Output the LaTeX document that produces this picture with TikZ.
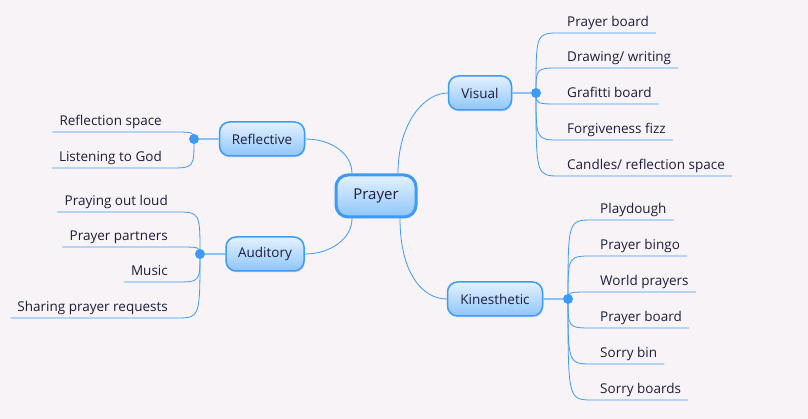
\documentclass[tikz,border=0pt]{standalone}
\usepackage{fontspec}
\setmainfont{Open Sans}
\usetikzlibrary{shadows}
\definecolor{mapblue}{HTML}{3D9BF5}
\definecolor{maplight}{HTML}{E4F1FF}
\definecolor{mapfill}{HTML}{8EC6FA}
\definecolor{mapstem}{HTML}{8CC2F5}
\definecolor{mapbg}{HTML}{F7F3F7}
\definecolor{maptext}{HTML}{1E1E3C}
\begin{document}
\begin{tikzpicture}[x=1pt,y=-1pt,font=\fontsize{13.5}{16}\selectfont,text=maptext,
    branch/.style={draw=mapblue,line width=1.5pt,rounded corners=10pt,
        top color=maplight,bottom color=mapfill,minimum height=34pt,inner xsep=0pt,
        drop shadow={opacity=0.18,shadow xshift=1pt,shadow yshift=-1.5pt}},
    knot/.style={circle,fill=mapblue,inner sep=0pt,minimum size=10pt},
    leaf/.style={inner xsep=7pt,inner ysep=3pt,text height=10pt,text depth=3pt},
    link/.style={draw=mapblue,line width=0.8pt},
    stem/.style={draw=mapstem,line width=2pt}]
    \useasboundingbox[fill=mapbg] (0,0) rectangle (808,419);
    %% centre
    \node[branch,line width=3pt,rounded corners=12pt,minimum width=80pt,minimum height=42pt,
        font=\fontsize{15}{18}\selectfont] (prayer) at (376,196) {Prayer};
    %% branches
    \node[branch,minimum width=63pt] (visual) at (480,93) {Visual};
    \node[branch,minimum width=85pt] (reflective) at (262,139) {Reflective};
    \node[branch,minimum width=78pt] (auditory) at (265,254) {Auditory};
    \node[branch,minimum width=95pt] (kinesthetic) at (495,299) {Kinesthetic};
    \coordinate (pv) at ([xshift=22pt]prayer.north);
    \coordinate (pr) at ([xshift=-24pt]prayer.north);
    \coordinate (pa) at ([xshift=-24pt]prayer.south);
    \coordinate (pk) at ([xshift=24pt]prayer.south);
    \draw[link] (pv) .. controls ([yshift=50pt]pv) and ([xshift=-24pt]visual.west) .. (visual.west);
    \draw[link] (pr) .. controls ([yshift=20pt]pr) and ([xshift=26pt]reflective.east) .. (reflective.east);
    \draw[link] (pa) .. controls ([yshift=-20pt]pa) and ([xshift=26pt]auditory.east) .. (auditory.east);
    \draw[link] (pk) .. controls ([yshift=-55pt]pk) and ([xshift=-24pt]kinesthetic.west) .. (kinesthetic.west);
    %% knots
    \node[knot] (vknot) at (536,93) {};
    \node[knot] (rknot) at (194,139) {};
    \node[knot] (aknot) at (200,254) {};
    \node[knot] (kknot) at (568,299) {};
    \draw[stem] (visual) -- (vknot);
    \draw[stem] (reflective) -- (rknot);
    \draw[stem] (auditory) -- (aknot);
    \draw[stem] (kinesthetic) -- (kknot);
    %% leaves
    \foreach \t/\y [count=\i] in {Prayer board/33,{Drawing/ writing}/68,Grafitti board/104,
        Forgiveness fizz/140,{Candles/ reflection space}/176} {
        \node[leaf,anchor=south west] (v\i) at (560,\y) {\t};
        \draw[link] (vknot.center) .. controls (vknot |- v\i.south west) .. (v\i.south west) -- (v\i.south east);
    }
    \foreach \t/\y [count=\i] in {Reflection space/132,Listening to God/168} {
        \node[leaf,anchor=south east] (r\i) at (169,\y) {\t};
        \draw[link] (rknot.center) .. controls (rknot |- r\i.south east) .. (r\i.south east) -- (r\i.south west);
    }
    \foreach \t/\y [count=\i] in {Praying out loud/212,Prayer partners/247,Music/282,
        Sharing prayer requests/318} {
        \node[leaf,anchor=south east] (a\i) at (175,\y) {\t};
        \draw[link] (aknot.center) .. controls (aknot |- a\i.south east) .. (a\i.south east) -- (a\i.south west);
    }
    \foreach \t/\y [count=\i] in {Playdough/220,Prayer bingo/256,World prayers/292,
        Prayer board/328,Sorry bin/364,Sorry boards/400} {
        \node[leaf,anchor=south west] (k\i) at (593,\y) {\t};
        \draw[link] (kknot.center) .. controls (kknot |- k\i.south west) .. (k\i.south west) -- (k\i.south east);
    }
\end{tikzpicture}
\end{document}
